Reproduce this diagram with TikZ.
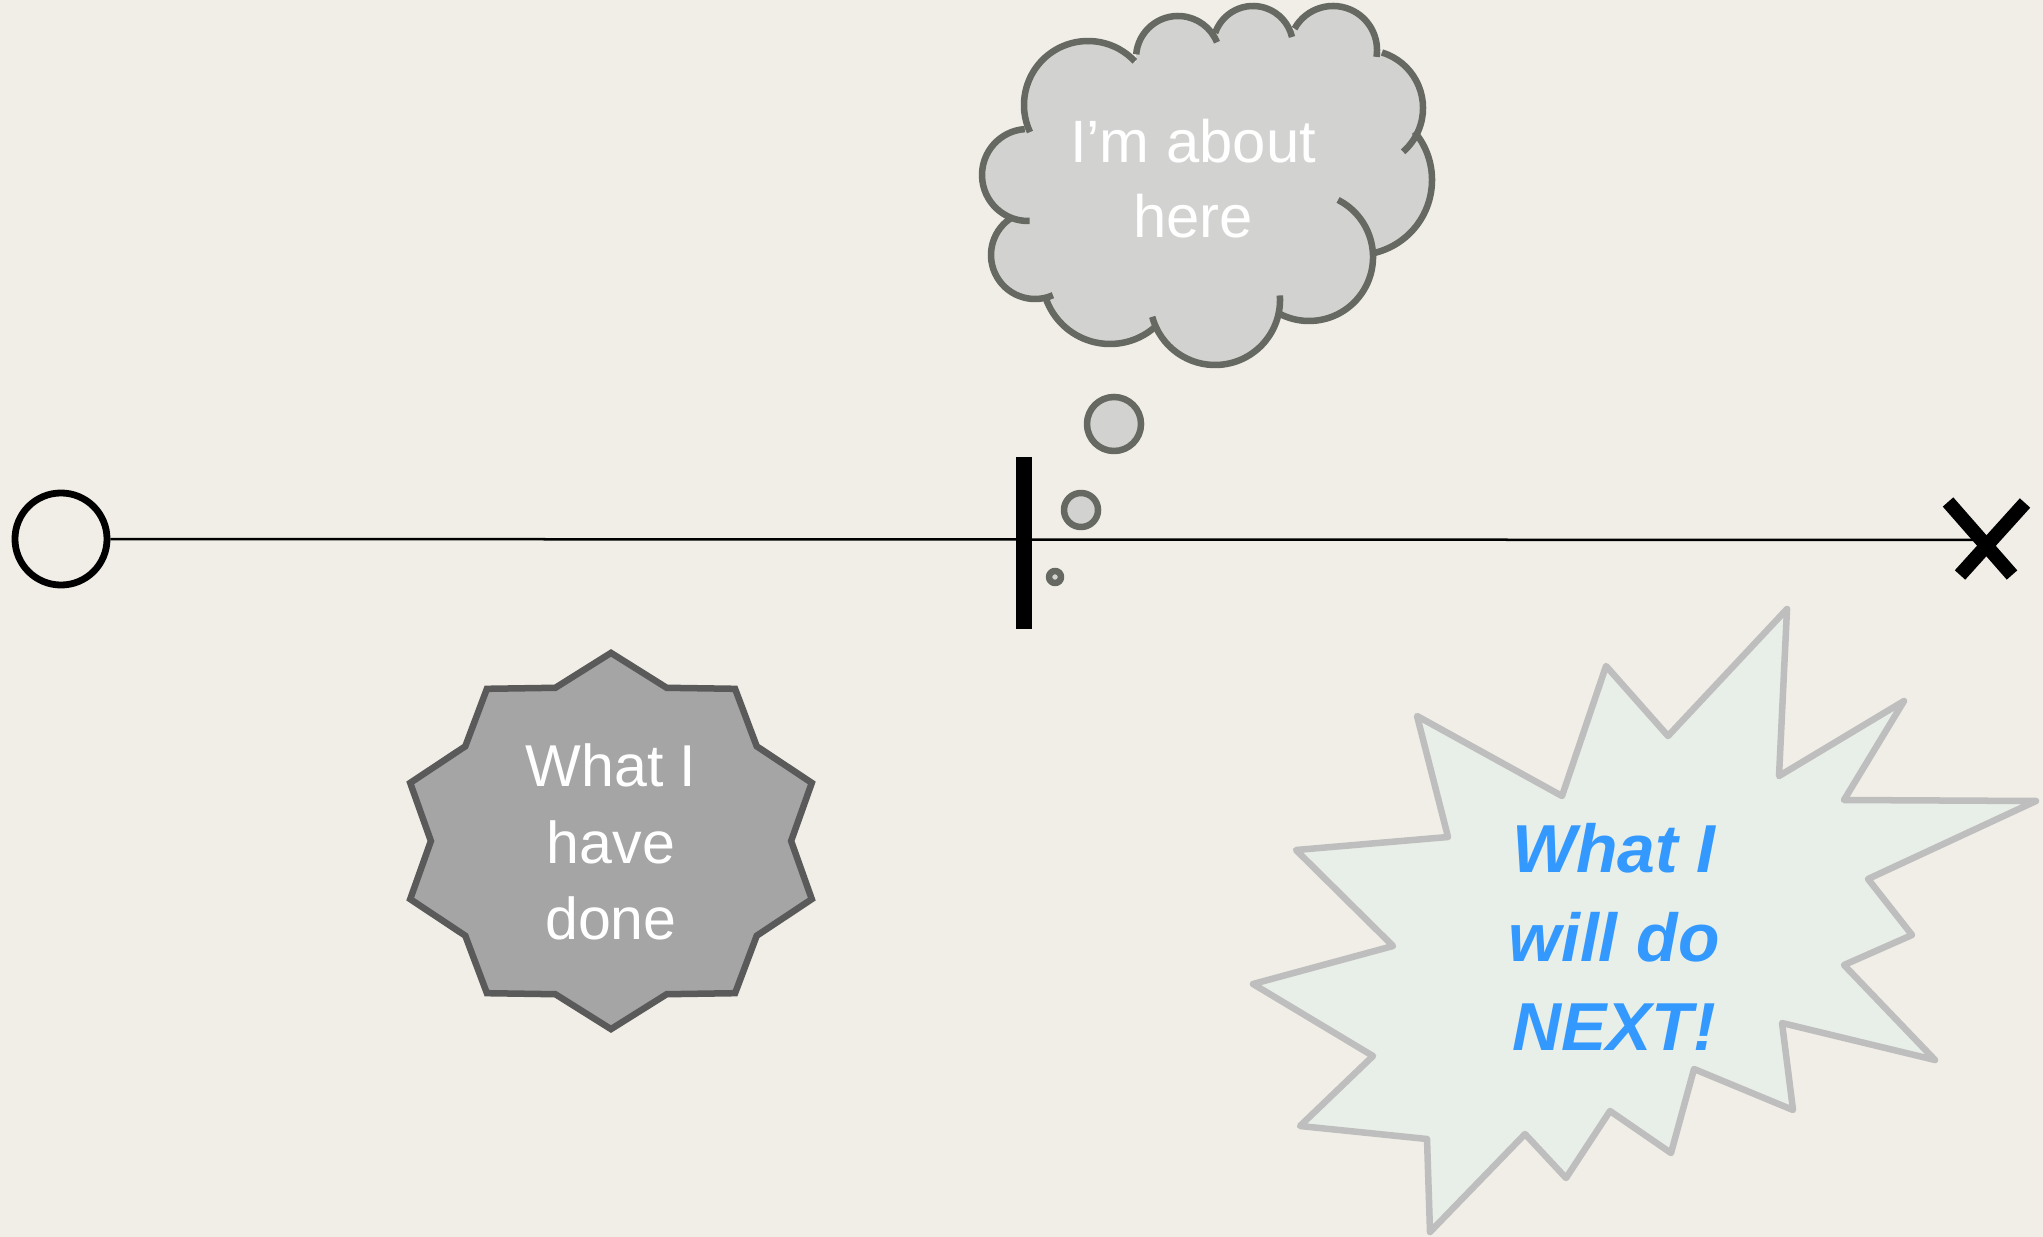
\documentclass[tikz,border=0pt]{standalone}
\usepackage{fontspec}
\setmainfont{Liberation Sans}
\definecolor{paper}{HTML}{F0EEE6}
\definecolor{cloudfill}{HTML}{D2D2D0}
\definecolor{cloudline}{HTML}{666862}
\definecolor{donefill}{HTML}{A5A5A5}
\definecolor{doneline}{HTML}{5A5A5A}
\definecolor{nextfill}{HTML}{E8EEE8}
\definecolor{nextline}{HTML}{BEBEBE}
\definecolor{nextblue}{HTML}{3399FF}
\def\lobes{1088/105/64/155/317, 1178/58/42/185/338, 1253/46/40/199/347,
  1333/50/44/209/369, 1365/108/58/287/409, 1357/180/75/320/439,
  1309/257/64/297/479, 1215/300/65/356/525, 1110/276/68/46/161,
  1035/255/44/66/239, 1028/175/46/88/266}
\begin{document}
\begin{tikzpicture}[x=0.01cm, y=-0.01cm, line join=round,
    timeline/.style={line width=0.025cm},
    startmark/.style={circle, draw, line width=0.068cm, minimum size=0.92cm, inner sep=0pt},
    finishmark/.style={line width=0.14cm},
    nowbar/.style={fill=black, minimum width=0.16cm, minimum height=1.72cm, inner sep=0pt},
    bubble/.style={circle, draw=cloudline, fill=cloudfill, line width=0.065cm, inner sep=0pt},
    cloudtext/.style={align=center, text=white, font=\fontsize{17}{21.3}\selectfont},
    donetext/.style={align=center, text=white, font=\fontsize{16.8}{21.8}\selectfont},
    nexttext/.style={align=center, text=nextblue, font=\fontsize{19.3}{25.2}\selectfont\bfseries\itshape}]
    \useasboundingbox (0,0) rectangle (2043,1237);
    \fill[paper] (0,0) rectangle (2043,1237);
    \node[startmark] (start) at (61,539) {};
    \coordinate (finish) at (1986,540);
    \draw[timeline] (start) -- (finish);
    \draw[finishmark] (1948,502) -- (2012,575);
    \draw[finishmark] (2025,503) -- (1960,575);
    \node[nowbar] (now) at (1024,543) {};
    \node[bubble, minimum size=0.12cm] (b1) at (1055,577) {};
    \node[bubble, minimum size=0.34cm] (b2) at (1081,510) {};
    \node[bubble, minimum size=0.54cm] (b3) at (1114,424) {};
    \fill[cloudfill] (1088,105) -- (1178,58) -- (1253,46) -- (1333,50) -- (1365,108) -- (1357,180)
        -- (1309,257) -- (1215,300) -- (1110,276) -- (1035,255) -- (1028,175) -- cycle;
    \foreach \cx/\cy/\r/\a/\b in \lobes
        \fill[cloudfill] (\cx,\cy) circle[radius=\r];
    \foreach \cx/\cy/\r/\a/\b in \lobes
        \draw[cloudline, line width=0.065cm] (\cx,\cy) ++(\a:\r) arc[start angle=\a, end angle=\b, radius=\r];
    \node[cloudtext] (here) at (1193,179) {I’m about\\here};
    \draw[doneline, fill=donefill, line width=0.065cm, line join=miter, shift={(611,841)}] (90:2.11cm and 1.88cm)
        \foreach \a in {0,36,...,288} { -- (108+\a:1.80cm and 1.61cm) -- (126+\a:2.11cm and 1.88cm)}
        -- (72:1.80cm and 1.61cm) -- cycle;
    \node[donetext] (done) at (611,842) {What I\\have\\done};
    \draw[nextline, fill=nextfill, line width=0.065cm] (1417,716) -- (1562,796) -- (1606,666) -- (1668,736)
        -- (1787,609) -- (1779,776) -- (1904,701) -- (1844,800) -- (2036,801) -- (1868,879)
        -- (1912,935) -- (1844,965) -- (1935,1060) -- (1782,1023) -- (1793,1110) -- (1694,1069)
        -- (1671,1153) -- (1610,1111) -- (1566,1178) -- (1525,1134) -- (1430,1232) -- (1427,1139)
        -- (1300,1126) -- (1373,1056) -- (1253,984) -- (1393,946) -- (1296,850) -- (1448,837) -- cycle;
    \node[nexttext] (next) at (1614,937) {What I\\will do\\NEXT!};
\end{tikzpicture}
\end{document}
